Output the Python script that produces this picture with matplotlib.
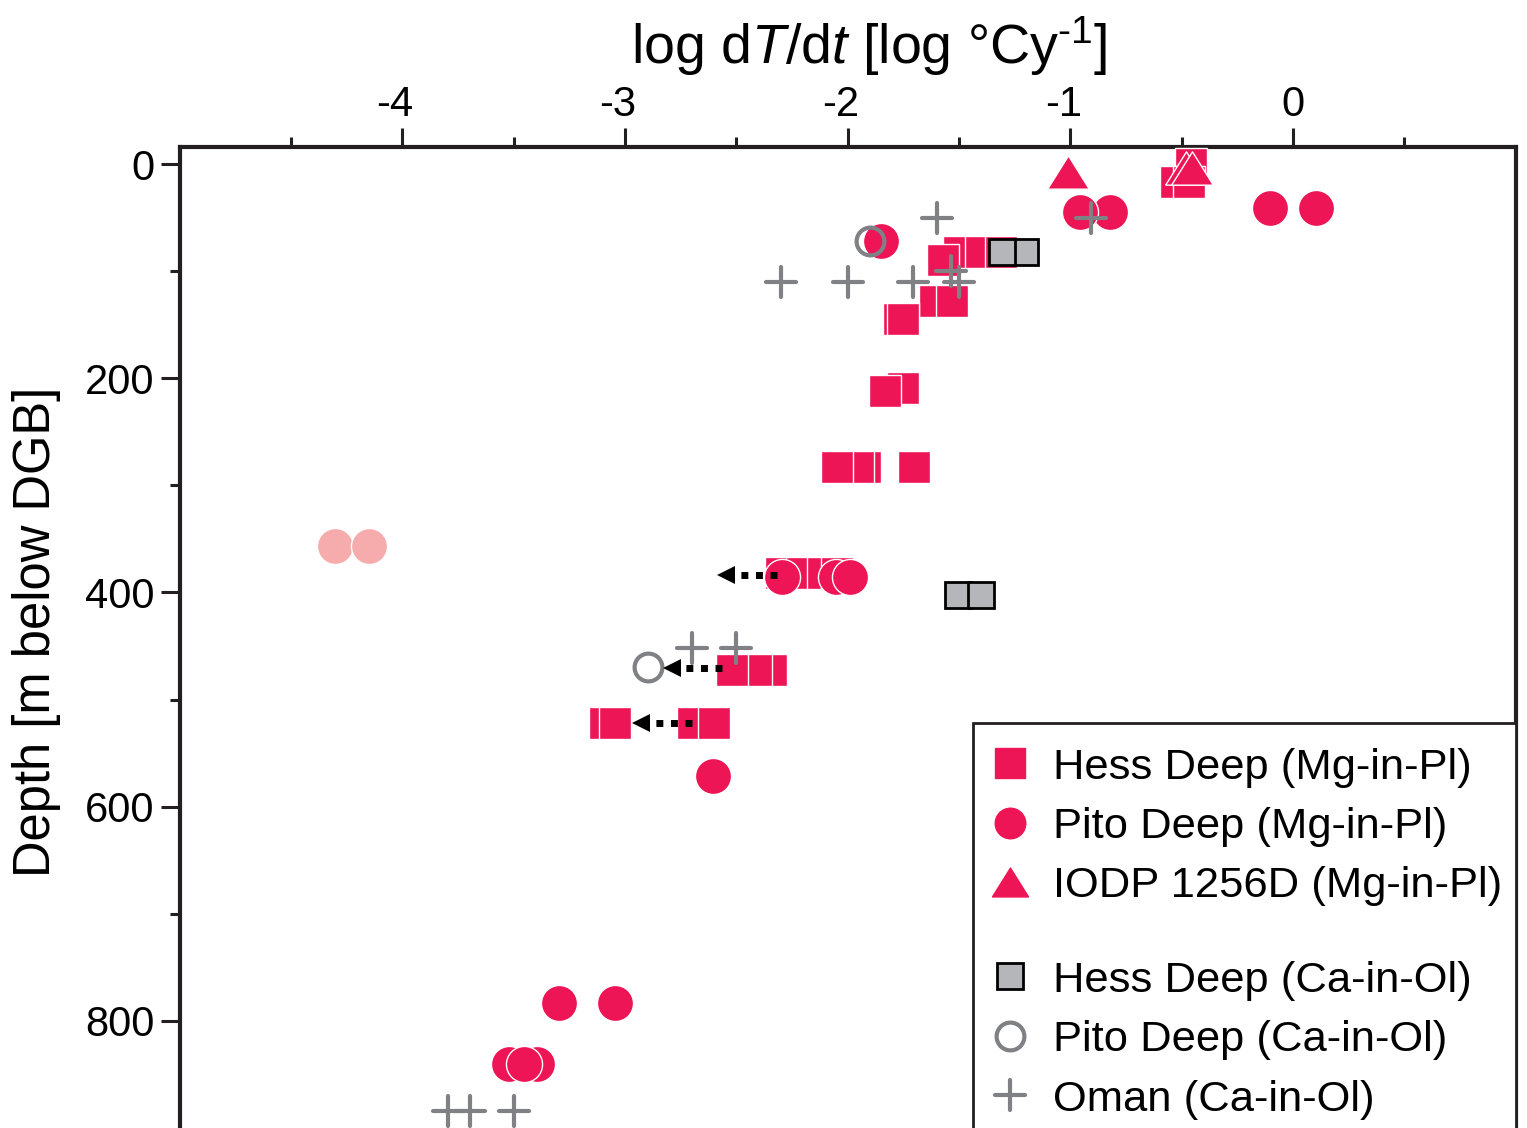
#!/usr/bin/env python3
"""
Cooling rate vs depth: Hess Deep, Pito Deep, IODP 1256D and Oman
"""

import matplotlib
matplotlib.use('Agg')
import matplotlib.pyplot as plt
import matplotlib.transforms as mtransforms
from matplotlib.lines import Line2D
from matplotlib.markers import MarkerStyle
from matplotlib.patches import Rectangle

plt.rcParams['font.family'] = ['Liberation Sans', 'DejaVu Sans']
plt.rcParams['mathtext.fontset'] = 'custom'
plt.rcParams['mathtext.rm'] = 'Liberation Sans'
plt.rcParams['mathtext.it'] = 'Liberation Sans:italic'
plt.rcParams['axes.unicode_minus'] = False

RED = '#ee1556'
PINK = '#f6abad'
GREY = '#7f8185'
GREY_FILL = '#b5b6ba'

# Hess Deep (Mg-in-Pl): log cooling rate, depth [m]
hess_mg_x = [-0.457, -0.525, -0.466,
             -1.50, -1.40, -1.31, -1.572,
             -1.605, -1.53, -1.77, -1.749,
             -1.75, -1.83,
             -1.92, -1.955, -2.045, -1.70,
             -2.30, -2.206, -2.108, -2.045,
             -2.345, -2.41, -2.52,
             -3.09, -3.045, -2.695, -2.60]
hess_mg_d = [0, 17, 17,
             82, 82, 82, 90,
             128, 128, 145, 145,
             209, 212,
             283, 283, 283, 283,
             382, 382, 382, 382,
             472, 472, 472,
             522, 522, 522, 522]

# Pito Deep (Mg-in-Pl)
pito_mg_x = [-0.82, -0.957, -0.103, 0.105, -1.85,
             -2.295, -2.05, -1.99, -2.605,
             -3.296, -3.043, -3.52, -3.395, -3.453]
pito_mg_d = [45, 45, 41, 41, 72,
             386, 386, 386, 571,
             783, 783, 840, 840, 840]

# Pito Deep (Mg-in-Pl), faded points
pito_faded_x = [-4.30, -4.15]
pito_faded_d = [357, 357]

# IODP 1256D (Mg-in-Pl)
iodp_x = [-1.01, -0.48, -0.455]
iodp_d = [7, 4, 4]

# Hess Deep (Ca-in-Ol)
hess_ca_x = [-1.204, -1.305, -1.502, -1.401]
hess_ca_d = [82, 82, 402, 402]

# Pito Deep (Ca-in-Ol)
pito_ca_x = [-1.90, -2.897]
pito_ca_d = [72, 470]

# Oman (Ca-in-Ol)
oman_x = [-1.60, -0.906, -2.30, -2.00, -1.705, -1.535, -1.50,
          -2.70, -2.50, -3.794, -3.695, -3.498]
oman_d = [50, 50, 110, 110, 110, 100, 110,
          452, 452, 884, 884, 884]

# dotted arrows: depth, start, tip
arrow_d = [384, 471, 522]
arrow_start = [-2.318, -2.565, -2.70]
arrow_tip = [-2.587, -2.83, -2.969]

x_major = [-4, -3, -2, -1, 0]
x_labels = ['-4', '-3', '-2', '-1', '0']
x_minor = [-4.5, -3.5, -2.5, -1.5, -0.5, 0.5]
y_major = [0, 200, 400, 600, 800]
y_minor = [100, 300, 500, 700]

tri = [(-1, -0.8), (1, -0.8), (0, 0.8), (-1, -0.8)]
plus = MarkerStyle('+', capstyle='round')

fig = plt.figure(figsize=(15.27, 11.28), dpi=100)
ax = fig.add_axes([179.5 / 1527, 0, 1336 / 1527, 981 / 1128])

common = dict(ls='none', clip_on=False)
ax.plot(hess_mg_x, hess_mg_d, marker='s', ms=23.5, mfc=RED, mec='white', mew=1.0, zorder=3, **common)
ax.plot(pito_faded_x, pito_faded_d, marker='o', ms=26, mfc=PINK, mec='white', mew=1.0, zorder=3, **common)
ax.plot(pito_mg_x, pito_mg_d, marker='o', ms=26, mfc=RED, mec='white', mew=1.0, zorder=4, **common)
ax.plot(iodp_x, iodp_d, marker=tri, ms=30, mfc=RED, mec='white', mew=1.0, zorder=5, **common)
ax.plot(hess_ca_x, hess_ca_d, marker='s', ms=19, mfc=GREY_FILL, mec='black', mew=2.0, zorder=6, **common)
ax.plot(pito_ca_x, pito_ca_d, marker='o', ms=20, mfc='none', mec=GREY, mew=3.0, zorder=6, **common)
ax.plot(oman_x, oman_d, marker=plus, ms=22, mec=GREY, mew=3.0, zorder=7, **common)

# arrows (dotted shaft + filled head)
head_tf = mtransforms.offset_copy(ax.transData, fig=fig, x=9, y=0, units='dots')
for d, x0, x1 in zip(arrow_d, arrow_start, arrow_tip):
    ax.plot([x0, x1 + 0.06], [d, d], color='black', lw=5, ls=(0, (1, 1.1)),
            dash_capstyle='butt', zorder=8)
    ax.plot([x1], [d], marker='<', ms=13.5, color='black', mew=0, ls='none',
            transform=head_tf, zorder=8)

ax.set_xlim(-5, 1)
ax.set_ylim(900.1, -15.9)

ax.xaxis.tick_top()
ax.xaxis.set_label_position('top')
ax.set_xticks(x_major, labels=x_labels)
ax.set_xticks(x_minor, minor=True)
ax.set_yticks(y_major)
ax.set_yticks(y_minor, minor=True)

ax.tick_params(axis='both', which='major', direction='out', length=14, width=2.2,
               labelsize=30, color='#231f20')
ax.tick_params(axis='both', which='minor', direction='out', length=7, width=2.2,
               color='#231f20')
ax.tick_params(axis='x', which='major', pad=1.5)
ax.tick_params(axis='y', which='major', pad=4)

# centre the digit (not the hyphen) over the tick
shift = mtransforms.ScaledTranslation(-7 / 100, 0, fig.dpi_scale_trans)
for tick in ax.xaxis.get_major_ticks():
    if tick.label2.get_text().startswith('-'):
        tick.label2.set_transform(tick.label2.get_transform() + shift)

for side in ['top', 'left', 'right']:
    ax.spines[side].set_linewidth(3)
    ax.spines[side].set_color('#231f20')
ax.spines['bottom'].set_visible(False)

ax.set_xlabel('log d$\\it{T}$/d$\\it{t}$ [log °Cy$^{\\rm \u20101}$]', fontsize=40, x=0.516,
              labelpad=16)
ax.set_ylabel('Depth [m below DGB]', fontsize=36.5, y=0.506, labelpad=17)

# legend: one box, two groups
box = Rectangle((0.594, -0.1), 0.406, 0.5128, transform=ax.transAxes, facecolor='white',
                edgecolor='#231f20', lw=2, clip_on=False, zorder=9)
ax.add_patch(box)

mg_handles = [
    Line2D([], [], ls='none', marker='s', ms=21, mfc=RED, mec=RED),
    Line2D([], [], ls='none', marker='o', ms=22, mfc=RED, mec=RED),
    Line2D([], [], ls='none', marker=tri, ms=26, mfc=RED, mec=RED),
]
mg_labels = ['Hess Deep (Mg-in-Pl)', 'Pito Deep (Mg-in-Pl)', 'IODP 1256D (Mg-in-Pl)']
ca_handles = [
    Line2D([], [], ls='none', marker='s', ms=19, mfc=GREY_FILL, mec='black', mew=2.0),
    Line2D([], [], ls='none', marker='o', ms=20, mfc='none', mec=GREY, mew=3.0),
    Line2D([], [], ls='none', marker=plus, ms=22, mec=GREY, mew=3.0),
]
ca_labels = ['Hess Deep (Ca-in-Ol)', 'Pito Deep (Ca-in-Ol)', 'Oman (Ca-in-Ol)']

leg_kw = dict(loc='upper left', borderaxespad=0, borderpad=0, frameon=False,
              fontsize=31.3, labelspacing=0.447, handlelength=1.0, handletextpad=0.5)
leg1 = ax.legend(mg_handles, mg_labels, bbox_to_anchor=(0.6052, 0.3878), **leg_kw)
leg1.set_zorder(10)
ax.add_artist(leg1)
leg2 = ax.legend(ca_handles, ca_labels, bbox_to_anchor=(0.6052, 0.1706), **leg_kw)
leg2.set_zorder(10)

plt.savefig('out.png', dpi=100)
plt.close()
